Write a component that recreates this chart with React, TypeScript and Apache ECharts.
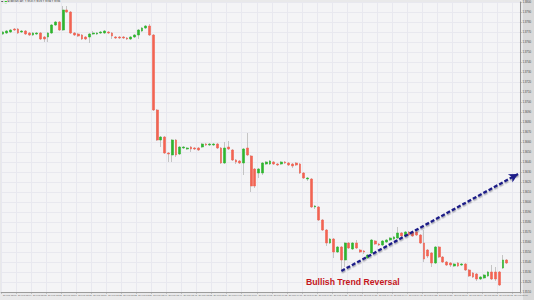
import React, { useEffect, useRef } from "react";
import * as echarts from "echarts";

const headerText = "EURUSD,M1  1.3540 1.3543 1.3538 1.3539";
const annotationText = "Bullish Trend Reversal";

const timeLabels = [
  "26 Feb 13:00", "26 Feb 13:04", "26 Feb 13:08", "26 Feb 13:12", "26 Feb 13:16", "26 Feb 13:20",
  "26 Feb 13:24", "26 Feb 13:28", "26 Feb 13:32", "26 Feb 13:36", "26 Feb 13:40", "26 Feb 13:44",
  "26 Feb 13:48", "26 Feb 13:52", "26 Feb 13:56", "26 Feb 14:00", "26 Feb 14:04", "26 Feb 14:08",
  "26 Feb 14:12", "26 Feb 14:16", "26 Feb 14:20", "26 Feb 14:24", "26 Feb 14:28", "26 Feb 14:32",
  "26 Feb 14:36", "26 Feb 14:40", "26 Feb 14:44", "26 Feb 14:48", "26 Feb 14:52", "26 Feb 14:56",
  "26 Feb 15:00", "26 Feb 15:04", "26 Feb 15:08", "26 Feb 15:12", "26 Feb 15:16",
];

const opens = [
  1.3768, 1.3769, 1.3770, 1.3773, 1.3773, 1.3770, 1.3771, 1.3769, 1.3767, 1.3768,
  1.3769, 1.3765, 1.3765, 1.3769, 1.3777, 1.3780, 1.3772, 1.3792, 1.3790, 1.3769,
  1.3768, 1.3767, 1.3765, 1.3765, 1.3768, 1.3768, 1.3769, 1.3769, 1.3770, 1.3769,
  1.3765, 1.3765, 1.3765, 1.3764, 1.3763, 1.3765, 1.3767, 1.3771, 1.3774, 1.3776,
  1.3767, 1.3692, 1.3662, 1.3665, 1.3649, 1.3647, 1.3662, 1.3648, 1.3654, 1.3653,
  1.3655, 1.3654, 1.3654, 1.3655, 1.3658, 1.3657, 1.3657, 1.3658, 1.3654, 1.3639,
  1.3655, 1.3652, 1.3642, 1.3641, 1.3639, 1.3654, 1.3646, 1.3633, 1.3629, 1.3629,
  1.3638, 1.3638, 1.3640, 1.3638, 1.3638, 1.3640, 1.3639, 1.3638, 1.3639, 1.3638,
  1.3629, 1.3623, 1.3623, 1.3595, 1.3595, 1.3582, 1.3572, 1.3559, 1.3563, 1.3550,
  1.3555, 1.3542, 1.3559, 1.3553, 1.3559, 1.3552, 1.3551, 1.3544, 1.3549, 1.3561,
  1.3558, 1.3557, 1.3560, 1.3562, 1.3563, 1.3564, 1.3569, 1.3566, 1.3570, 1.3570,
  1.3570, 1.3567, 1.3559, 1.3552, 1.3549, 1.3539, 1.3555, 1.3545, 1.3540, 1.3539,
  1.3536, 1.3539, 1.3537, 1.3538, 1.3532, 1.3529, 1.3528, 1.3523, 1.3524, 1.3526,
  1.3530, 1.3530, 1.3530, 1.3534, 1.3542,
];

const closes = [
  1.3770, 1.3771, 1.3772, 1.3772, 1.3769, 1.3771, 1.3768, 1.3767, 1.3769, 1.3769,
  1.3763, 1.3763, 1.3769, 1.3777, 1.3780, 1.3772, 1.3792, 1.3790, 1.3769, 1.3767,
  1.3766, 1.3763, 1.3763, 1.3768, 1.3769, 1.3769, 1.3770, 1.3771, 1.3769, 1.3766,
  1.3764, 1.3764, 1.3764, 1.3763, 1.3765, 1.3767, 1.3772, 1.3774, 1.3776, 1.3767,
  1.3692, 1.3662, 1.3665, 1.3649, 1.3648, 1.3662, 1.3647, 1.3655, 1.3655, 1.3654,
  1.3653, 1.3653, 1.3652, 1.3658, 1.3657, 1.3658, 1.3658, 1.3654, 1.3639, 1.3654,
  1.3653, 1.3642, 1.3640, 1.3639, 1.3653, 1.3647, 1.3616, 1.3616, 1.3633, 1.3639,
  1.3640, 1.3641, 1.3638, 1.3637, 1.3640, 1.3639, 1.3637, 1.3636, 1.3637, 1.3629,
  1.3624, 1.3624, 1.3595, 1.3596, 1.3582, 1.3572, 1.3559, 1.3563, 1.3550, 1.3555,
  1.3542, 1.3559, 1.3554, 1.3559, 1.3554, 1.3550, 1.3550, 1.3547, 1.3562, 1.3558,
  1.3557, 1.3561, 1.3562, 1.3564, 1.3565, 1.3569, 1.3566, 1.3570, 1.3567, 1.3566,
  1.3567, 1.3559, 1.3543, 1.3546, 1.3539, 1.3555, 1.3545, 1.3540, 1.3537, 1.3537,
  1.3538, 1.3536, 1.3538, 1.3532, 1.3526, 1.3525, 1.3523, 1.3525, 1.3527, 1.3530,
  1.3523, 1.3523, 1.3517, 1.3542, 1.3539,
];

const lows = [
  1.3767, 1.3768, 1.3769, 1.3771, 1.3768, 1.3769, 1.3767, 1.3766, 1.3766, 1.3767,
  1.3762, 1.3760, 1.3760, 1.3768, 1.3776, 1.3771, 1.3771, 1.3789, 1.3768, 1.3766,
  1.3765, 1.3762, 1.3762, 1.3759, 1.3767, 1.3767, 1.3768, 1.3768, 1.3768, 1.3763,
  1.3763, 1.3763, 1.3763, 1.3762, 1.3762, 1.3764, 1.3763, 1.3770, 1.3773, 1.3766,
  1.3691, 1.3661, 1.3655, 1.3648, 1.3640, 1.3640, 1.3645, 1.3647, 1.3653, 1.3652,
  1.3650, 1.3652, 1.3651, 1.3654, 1.3656, 1.3656, 1.3656, 1.3653, 1.3638, 1.3638,
  1.3652, 1.3641, 1.3638, 1.3638, 1.3627, 1.3646, 1.3610, 1.3614, 1.3624, 1.3627,
  1.3637, 1.3637, 1.3637, 1.3636, 1.3637, 1.3638, 1.3636, 1.3634, 1.3636, 1.3628,
  1.3623, 1.3621, 1.3594, 1.3593, 1.3581, 1.3571, 1.3556, 1.3558, 1.3544, 1.3549,
  1.3532, 1.3535, 1.3553, 1.3552, 1.3553, 1.3549, 1.3548, 1.3543, 1.3548, 1.3557,
  1.3556, 1.3556, 1.3559, 1.3561, 1.3562, 1.3563, 1.3565, 1.3565, 1.3566, 1.3565,
  1.3566, 1.3558, 1.3540, 1.3544, 1.3535, 1.3538, 1.3544, 1.3539, 1.3536, 1.3535,
  1.3535, 1.3535, 1.3536, 1.3531, 1.3525, 1.3524, 1.3521, 1.3522, 1.3523, 1.3525,
  1.3522, 1.3521, 1.3516, 1.3533, 1.3538,
];

const highs = [
  1.3771, 1.3772, 1.3773, 1.3774, 1.3774, 1.3772, 1.3772, 1.3770, 1.3770, 1.3770,
  1.3770, 1.3766, 1.3770, 1.3778, 1.3781, 1.3781, 1.3796, 1.3796, 1.3791, 1.3770,
  1.3769, 1.3768, 1.3766, 1.3769, 1.3771, 1.3770, 1.3771, 1.3772, 1.3771, 1.3770,
  1.3766, 1.3766, 1.3766, 1.3765, 1.3766, 1.3768, 1.3773, 1.3775, 1.3777, 1.3778,
  1.3768, 1.3693, 1.3666, 1.3666, 1.3650, 1.3663, 1.3663, 1.3656, 1.3656, 1.3655,
  1.3656, 1.3655, 1.3655, 1.3659, 1.3659, 1.3659, 1.3659, 1.3659, 1.3655, 1.3660,
  1.3661, 1.3653, 1.3643, 1.3642, 1.3654, 1.3669, 1.3647, 1.3634, 1.3634, 1.3640,
  1.3641, 1.3642, 1.3641, 1.3639, 1.3641, 1.3641, 1.3640, 1.3639, 1.3640, 1.3639,
  1.3630, 1.3625, 1.3624, 1.3597, 1.3596, 1.3583, 1.3573, 1.3564, 1.3564, 1.3556,
  1.3556, 1.3560, 1.3560, 1.3560, 1.3562, 1.3553, 1.3552, 1.3548, 1.3563, 1.3562,
  1.3559, 1.3562, 1.3563, 1.3565, 1.3566, 1.3575, 1.3570, 1.3571, 1.3571, 1.3571,
  1.3571, 1.3568, 1.3572, 1.3553, 1.3550, 1.3556, 1.3556, 1.3546, 1.3541, 1.3540,
  1.3539, 1.3540, 1.3539, 1.3539, 1.3533, 1.3530, 1.3529, 1.3526, 1.3528, 1.3531,
  1.3537, 1.3535, 1.3531, 1.3547, 1.3543,
];

const lastPrice = 1.3539;
const arrowFrom = [90, 1.3531];
const arrowTo = [137, 1.3628];
const priceMin = 1.351;
const priceMax = 1.38;
const priceStep = 0.001;
const slotCount = 138;

const UP = "#2fb52f";
const DOWN = "#f26352";
const WICK = "#b8b8b8";

export default function App() {
  const ref = useRef<HTMLDivElement>(null);

  useEffect(() => {
    if (!ref.current) return;
    const chart = echarts.init(ref.current, undefined, { renderer: "svg" });

    const categories = Array.from({ length: slotCount }, (_, i) => String(i));
    const wickData = opens.map((o, i) => [o, closes[i], lows[i], highs[i]]);
    const bodyData = opens.map((o, i) => [
      o,
      closes[i],
      Math.min(o, closes[i]),
      Math.max(o, closes[i]),
    ]);

    chart.setOption({
      animation: false,
      backgroundColor: "#e9e9ea",
      textStyle: { fontFamily: "Liberation Sans, Arial, sans-serif" },
      grid: {
        left: 0,
        top: 2,
        right: 534 - 524.4,
        bottom: 8,
        show: true,
        backgroundColor: "#f4f4f6",
        borderWidth: 0,
      },
      xAxis: {
        type: "category",
        data: categories,
        boundaryGap: true,
        axisLine: { show: true, lineStyle: { color: "#9c9c9c", width: 1 } },
        axisTick: { show: true, interval: 3, length: 1.5, lineStyle: { color: "#9c9c9c" } },
        axisLabel: {
          interval: 3,
          fontSize: 2.3,
          color: "#666",
          margin: 2.2,
          align: "left",
          formatter: (_v: string, idx: number) => timeLabels[idx / 4] ?? "",
        },
        splitLine: { show: true, interval: 3, lineStyle: { color: "#e8e8ef", width: 1 } },
      },
      yAxis: {
        type: "value",
        position: "right",
        min: priceMin,
        max: priceMax,
        interval: priceStep,
        scale: true,
        axisLine: { show: true, lineStyle: { color: "#8f8f8f", width: 1 } },
        axisTick: { show: true, length: 1.5, lineStyle: { color: "#8f8f8f" } },
        axisLabel: {
          fontSize: 2.8,
          color: "#444",
          margin: 2.5,
          formatter: (v: number) => v.toFixed(4),
        },
        splitLine: { show: true, lineStyle: { color: "#e8e8ef", width: 1 } },
      },
      graphic: [
        {
          type: "rect",
          z: -10,
          silent: true,
          shape: { x: 523, y: 0, width: 11, height: 300 },
          style: { fill: "#d9d9d9" },
        },
        {
          type: "polygon",
          silent: true,
          shape: { points: [[1, 1.3], [3.4, 1.3], [2.2, 3.3]] },
          style: { fill: "#333" },
        },
        {
          type: "rect",
          silent: true,
          shape: { x: 4.7, y: 1, width: 2.2, height: 2.2 },
          style: { fill: "#22cc22" },
        },
        {
          type: "text",
          silent: true,
          x: 7.6,
          y: 2.2,
          style: {
            text: headerText,
            fontSize: 2.7,
            fill: "#222",
            stroke: "none",
            lineWidth: 0,
            fontFamily: "Liberation Sans, Arial, sans-serif",
            verticalAlign: "middle",
          },
        },
        {
          type: "text",
          silent: true,
          z: 10,
          x: 306,
          y: 281.8,
          style: {
            text: annotationText,
            fontSize: 8.7,
            fontWeight: "bold",
            fill: "#c4161c",
            stroke: "none",
            lineWidth: 0,
            fontFamily: "Liberation Sans, Arial, sans-serif",
            verticalAlign: "middle",
          },
        },
      ],
      series: [
        {
          type: "candlestick",
          name: "wicks",
          silent: true,
          data: wickData,
          barWidth: 0.8,
          itemStyle: {
            color: "transparent",
            color0: "transparent",
            borderColor: WICK,
            borderColor0: WICK,
            borderWidth: 0.8,
          },
          markLine: {
            silent: true,
            symbol: ["none", "none"],
            animation: false,
            data: [{ yAxis: lastPrice }],
            lineStyle: { color: "#c6c6c6", width: 1, type: "solid" },
            label: {
              show: true,
              position: "end",
              distance: 2,
              formatter: () => lastPrice.toFixed(4),
              fontSize: 2.8,
              color: "#222",
              backgroundColor: "#ffffff",
              borderColor: "#8a8a8a",
              borderWidth: 0.5,
              padding: [0.7, 1],
            },
            emphasis: { disabled: true },
          },
        },
        {
          type: "candlestick",
          name: "bodies",
          silent: true,
          data: bodyData,
          barWidth: 2.3,
          itemStyle: {
            color: UP,
            color0: DOWN,
            borderColor: UP,
            borderColor0: DOWN,
            borderWidth: 0.6,
          },
          markLine: {
            silent: true,
            animation: false,
            symbol: ["none", "arrow"],
            symbolSize: [7, 9],
            label: { show: false },
            emphasis: { disabled: true },
            lineStyle: {
              color: "#1c1c88",
              width: 2.3,
              type: [4, 2],
              shadowColor: "rgba(60,60,80,0.4)",
              shadowBlur: 1.5,
              shadowOffsetX: 0.5,
              shadowOffsetY: 1.5,
            },
            data: [
              [
                { coord: [arrowFrom[0], arrowFrom[1]] },
                { coord: [arrowTo[0], arrowTo[1]] },
              ],
            ],
          },
        },
      ],
    });

    return () => chart.dispose();
  }, []);

  return (
    <div
      ref={ref}
      style={{ position: "fixed", left: 0, top: 0, width: 534, height: 300 }}
    />
  );
}
